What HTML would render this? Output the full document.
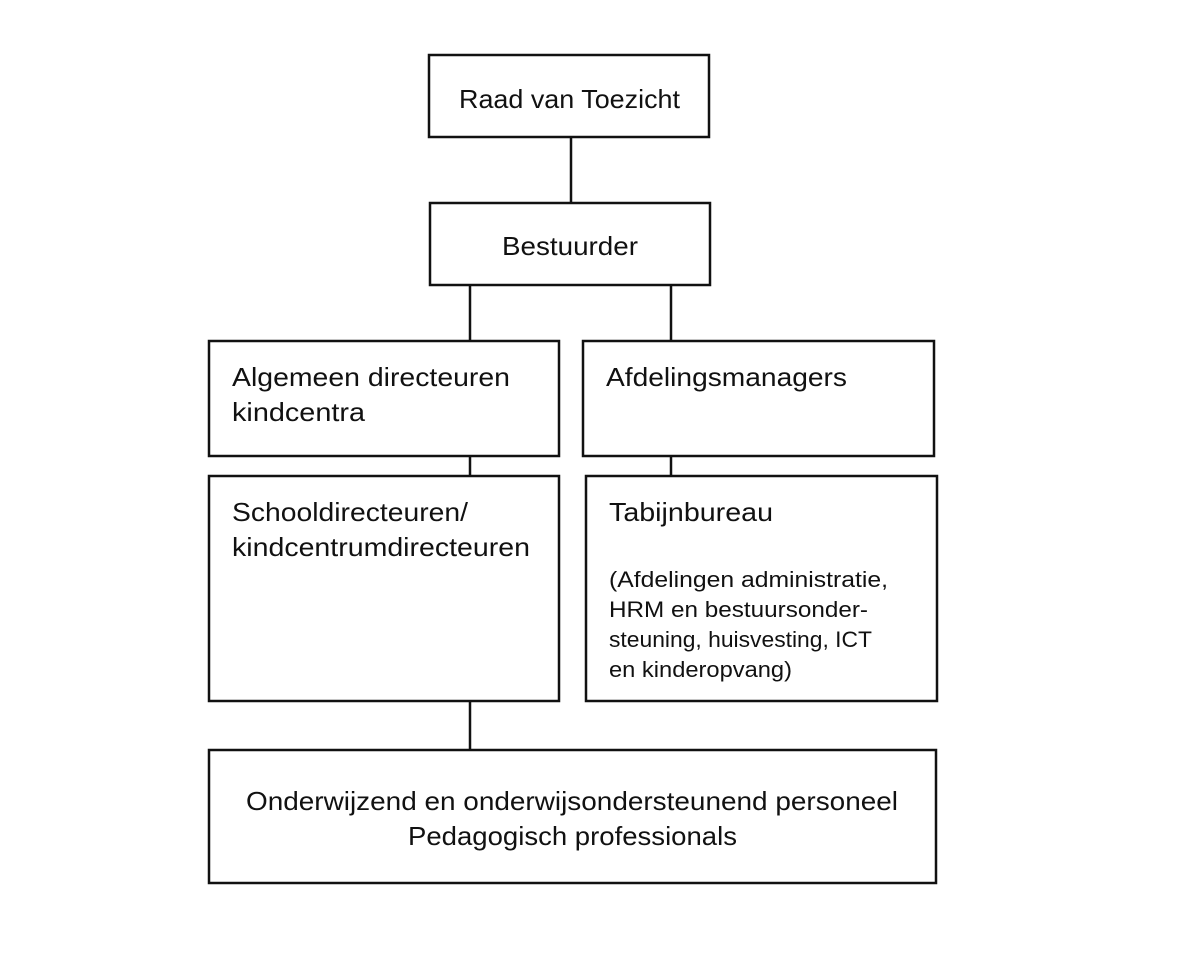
<!DOCTYPE html>
<html><head><meta charset="utf-8"><style>
html,body{margin:0;padding:0;background:#fff;}
svg{display:block}
text{font-family:"Liberation Sans",sans-serif;fill:#111;}
.b{font-size:26px}
.s{font-size:22px}
rect{fill:#fff;stroke:#111;stroke-width:2.5}
line{stroke:#111;stroke-width:2.5}
</style></head><body>
<svg width="1200" height="974" viewBox="0 0 1200 974" xmlns="http://www.w3.org/2000/svg">
<line x1="571" y1="137" x2="571" y2="203"/>
<line x1="470" y1="285" x2="470" y2="341"/>
<line x1="671" y1="285" x2="671" y2="341"/>
<line x1="470" y1="456" x2="470" y2="476"/>
<line x1="671" y1="456" x2="671" y2="476"/>
<line x1="470" y1="701" x2="470" y2="750"/>
<rect x="429" y="55" width="280" height="82"/>
<rect x="430" y="203" width="280" height="82"/>
<rect x="209" y="341" width="350" height="115"/>
<rect x="583" y="341" width="351" height="115"/>
<rect x="209" y="476" width="350" height="225"/>
<rect x="586" y="476" width="351" height="225"/>
<rect x="209" y="750" width="727" height="133"/>
<text class="b" x="459" y="108" textLength="221" lengthAdjust="spacingAndGlyphs">Raad van Toezicht</text>
<text class="b" x="502" y="255" textLength="136" lengthAdjust="spacingAndGlyphs">Bestuurder</text>
<text class="b" x="232" y="386" textLength="278" lengthAdjust="spacingAndGlyphs">Algemeen directeuren</text>
<text class="b" x="232" y="421" textLength="133" lengthAdjust="spacingAndGlyphs">kindcentra</text>
<text class="b" x="606" y="386" textLength="241" lengthAdjust="spacingAndGlyphs">Afdelingsmanagers</text>
<text class="b" x="232" y="521" textLength="236" lengthAdjust="spacingAndGlyphs">Schooldirecteuren/</text>
<text class="b" x="232" y="556" textLength="298" lengthAdjust="spacingAndGlyphs">kindcentrumdirecteuren</text>
<text class="b" x="609" y="521" textLength="164" lengthAdjust="spacingAndGlyphs">Tabijnbureau</text>
<text class="s" x="609" y="587" textLength="279" lengthAdjust="spacingAndGlyphs">(Afdelingen administratie,</text>
<text class="s" x="609" y="617" textLength="259" lengthAdjust="spacingAndGlyphs">HRM en bestuursonder-</text>
<text class="s" x="609" y="647" textLength="263" lengthAdjust="spacingAndGlyphs">steuning, huisvesting, ICT</text>
<text class="s" x="609" y="677" textLength="183" lengthAdjust="spacingAndGlyphs">en kinderopvang)</text>
<text class="b" x="246" y="810" textLength="652" lengthAdjust="spacingAndGlyphs">Onderwijzend en onderwijsondersteunend personeel</text>
<text class="b" x="408" y="845" textLength="329" lengthAdjust="spacingAndGlyphs">Pedagogisch professionals</text>
</svg>
</body></html>
